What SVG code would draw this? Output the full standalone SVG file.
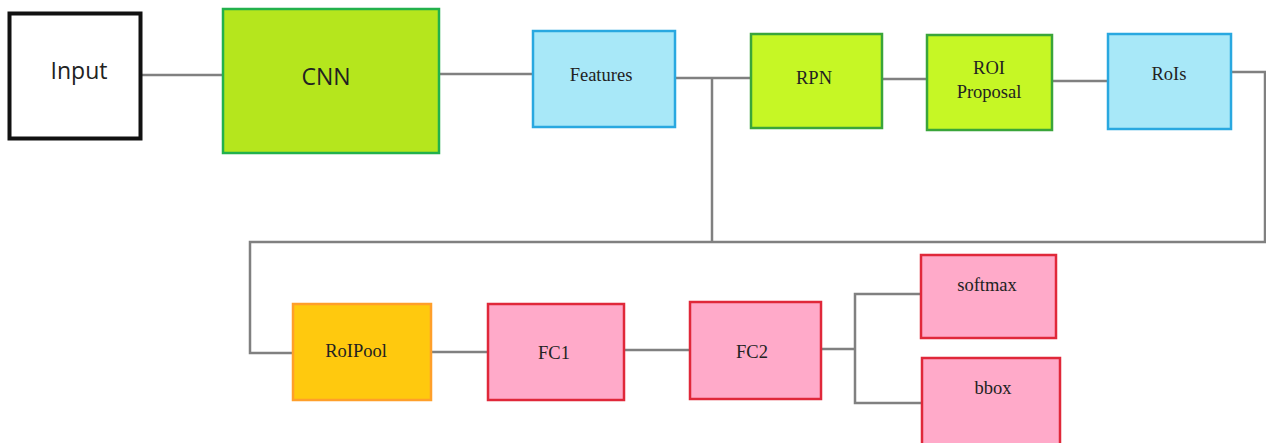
<svg xmlns="http://www.w3.org/2000/svg" width="1266" height="443" viewBox="0 0 1266 443">
<style>
.ln{fill:none;stroke:#808080;stroke-width:2.5}
.sans{font-family:"Open Sans","Noto Sans",sans-serif;font-size:23px;fill:#222;text-anchor:middle;dominant-baseline:central}
.ser{font-family:"Liberation Serif","Times New Roman",serif;font-size:18.5px;fill:#222;text-anchor:middle;dominant-baseline:central}
.pink{fill:#ffaac9;stroke:#e0283a;stroke-width:2.5}
.blue{fill:#a8e8f8;stroke:#29a8e0;stroke-width:2.5}
.lime{fill:#c6f725;stroke:#3aa53a;stroke-width:2.5}
</style>
<rect width="1266" height="443" fill="#fff"/>
<g id="connectors">
<path class="ln" d="M142 75H223"/>
<path class="ln" d="M439 74H533"/>
<path class="ln" d="M675 78H751"/>
<path class="ln" d="M712 78V242"/>
<path class="ln" d="M882 79H927"/>
<path class="ln" d="M1052 81H1108"/>
<path class="ln" d="M1231 72H1265V242H250V353H293"/>
<path class="ln" d="M431 352H488"/>
<path class="ln" d="M624 350H690"/>
<path class="ln" d="M821 349H855"/>
<path class="ln" d="M921 294H855V403H922"/>
</g>
<g id="input"><rect x="9.5" y="13.5" width="131" height="125" fill="#fff" stroke="#111" stroke-width="4"/><text class="sans" x="79" y="70">Input</text></g>
<g id="cnn"><rect x="223" y="9" width="216" height="144" fill="#b5e61d" stroke="#22b14c" stroke-width="2.5"/><text class="sans" x="326" y="76">CNN</text></g>
<g id="features"><rect class="blue" x="533" y="31" width="142" height="96"/><text class="ser" x="601" y="75">Features</text></g>
<g id="rpn"><rect class="lime" x="751" y="34" width="131" height="94"/><text class="ser" x="814" y="78">RPN</text></g>
<g id="roiproposal"><rect class="lime" x="927" y="35" width="125" height="95"/><text class="ser" x="989" y="68">ROI</text><text class="ser" x="989" y="92">Proposal</text></g>
<g id="rois"><rect class="blue" x="1108" y="34" width="123" height="95"/><text class="ser" x="1169" y="74">RoIs</text></g>
<g id="roipool"><rect x="293" y="304" width="138" height="96" fill="#ffc90e" stroke="#ff9f2a" stroke-width="2.5"/><text class="ser" x="356" y="351">RoIPool</text></g>
<g id="fc1"><rect class="pink" x="488" y="304" width="136" height="96"/><text class="ser" x="554" y="353">FC1</text></g>
<g id="fc2"><rect class="pink" x="690" y="302" width="131" height="97"/><text class="ser" x="752" y="352">FC2</text></g>
<g id="softmax"><rect class="pink" x="921" y="255" width="135" height="83"/><text class="ser" x="987" y="285">softmax</text></g>
<g id="bbox"><rect class="pink" x="922" y="358" width="138" height="90"/><text class="ser" x="993" y="388">bbox</text></g>
</svg>
